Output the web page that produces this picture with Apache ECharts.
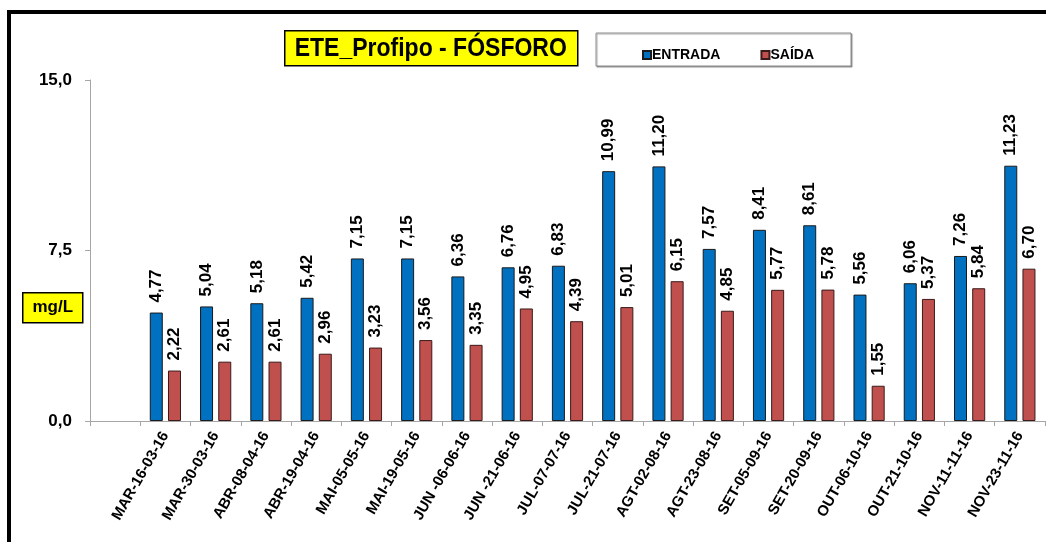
<!doctype html>
<html lang="pt">
<head>
    <meta charset="UTF-8">
    <title>ETE_Profipo - FÓSFORO</title>
    <style>
        body { margin: 0; background: #fff; }
        #main { width: 1046px; height: 542px; }
    </style>
    <script src="https://cdn.jsdelivr.net/npm/echarts@6/dist/echarts.min.js"></script>
</head>
<body>
    <div id="main"></div>
    <script>
        // leading '' keeps the empty slot between the y axis and the first date
        var categories = ['', 'MAR-16-03-16', 'MAR-30-03-16', 'ABR-08-04-16', 'ABR-19-04-16', 'MAI-05-05-16',
            'MAI-19-05-16', 'JUN -06-06-16', 'JUN -21-06-16', 'JUL-07-07-16', 'JUL-21-07-16',
            'AGT-02-08-16', 'AGT-23-08-16', 'SET-05-09-16', 'SET-20-09-16', 'OUT-06-10-16',
            'OUT-21-10-16', 'NOV-11-11-16', 'NOV-23-11-16'];
        var entrada = [null, 4.77, 5.04, 5.18, 5.42, 7.15, 7.15, 6.36, 6.76, 6.83, 10.99,
            11.20, 7.57, 8.41, 8.61, 5.56, 6.06, 7.26, 11.23];
        var saida = [null, 2.22, 2.61, 2.61, 2.96, 3.23, 3.56, 3.35, 4.95, 4.39, 5.01,
            6.15, 4.85, 5.77, 5.78, 1.55, 5.37, 5.84, 6.70];
        var yTicks = [0, 7.5, 15];

        var chartDom = document.getElementById('main');
        var myChart = echarts.init(chartDom);

        function comma(v, d) {
            return v.toFixed(d).replace('.', ',');
        }

        var barLabel = {
            show: true,
            position: 'top',
            rotate: 90,
            align: 'left',
            verticalAlign: 'middle',
            distance: 10,
            fontFamily: 'Liberation Sans',
            fontWeight: 'bold',
            fontSize: 17,
            color: '#000',
            formatter: function (p) { return comma(p.value, 2); }
        };

        var option = {
            animation: false,
            backgroundColor: '#fff',
            textStyle: { fontFamily: 'Liberation Sans' },
            grid: { left: 90, right: 1, top: 80, bottom: 121 },
            legend: {
                data: ['ENTRADA', 'SAÍDA'],
                left: 637,
                top: 43,
                itemWidth: 8,
                itemHeight: 8,
                itemGap: 40,
                icon: 'rect',
                textStyle: {
                    fontFamily: 'Liberation Sans',
                    fontWeight: 'bold',
                    fontSize: 14,
                    color: '#000',
                    padding: [0, 0, 0, -4]
                }
            },
            xAxis: {
                type: 'category',
                data: categories,
                axisLine: { lineStyle: { color: '#a6a6a6' } },
                axisTick: { show: true, length: 5, lineStyle: { color: '#a6a6a6' } },
                axisLabel: {
                    rotate: 60,
                    interval: 0,
                    margin: 12,
                    fontFamily: 'Liberation Sans',
                    fontWeight: 'bold',
                    fontSize: 15,
                    color: '#000'
                }
            },
            yAxis: {
                type: 'value',
                min: 0,
                max: 15,
                interval: 7.5,
                splitLine: { show: false },
                axisLine: { show: true, lineStyle: { color: '#a6a6a6' } },
                axisTick: { show: true, length: 5, lineStyle: { color: '#a6a6a6' } },
                axisLabel: {
                    margin: 18,
                    fontFamily: 'Liberation Sans',
                    fontWeight: 'bold',
                    fontSize: 17,
                    color: '#000',
                    formatter: function (v) { return yTicks.indexOf(v) >= 0 ? comma(v, 1) : ''; }
                }
            },
            series: [
                {
                    name: 'ENTRADA',
                    type: 'bar',
                    data: entrada,
                    barWidth: 13,
                    barGap: '40%',
                    itemStyle: { color: '#0070c0', borderColor: '#1a1a1a', borderWidth: 1 },
                    label: barLabel
                },
                {
                    name: 'SAÍDA',
                    type: 'bar',
                    data: saida,
                    barWidth: 13,
                    itemStyle: { color: '#c0504d', borderColor: '#3a1a1a', borderWidth: 1 },
                    label: barLabel
                }
            ],
            graphic: [
                {
                    type: 'rect',
                    shape: { x: 9, y: 12, width: 1060, height: 560 },
                    style: { fill: 'none', stroke: '#000', lineWidth: 4 },
                    silent: true
                },
                {
                    type: 'rect',
                    shape: { x: 596, y: 33, width: 255, height: 33 },
                    style: { fill: '#fff', stroke: '#8c8c8c', lineWidth: 1, shadowColor: 'rgba(0,0,0,0.35)', shadowOffsetX: 1, shadowOffsetY: 1, shadowBlur: 1 },
                    z: -1
                },
                {
                    type: 'group',
                    left: 284,
                    top: 30,
                    children: [
                        {
                            type: 'rect',
                            shape: { x: 0, y: 0, width: 293, height: 35 },
                            style: { fill: '#ffff00', stroke: '#000', lineWidth: 1.5 }
                        },
                        {
                            type: 'text',
                            x: 146,
                            y: 18,
                            scaleY: 1.15,
                            style: {
                                text: 'ETE_Profipo - FÓSFORO',
                                fontFamily: 'Liberation Sans',
                                fontWeight: 'bold',
                                fontSize: 23,
                                fill: '#000',
                                align: 'center',
                                verticalAlign: 'middle'
                            }
                        }
                    ]
                },
                {
                    type: 'group',
                    left: 22,
                    top: 292,
                    children: [
                        {
                            type: 'rect',
                            shape: { x: 0, y: 0, width: 60, height: 30 },
                            style: { fill: '#ffff00', stroke: '#000', lineWidth: 1.5 }
                        },
                        {
                            type: 'text',
                            x: 30,
                            y: 15,
                            style: {
                                text: 'mg/L',
                                fontFamily: 'Liberation Sans',
                                fontWeight: 'bold',
                                fontSize: 17,
                                fill: '#000',
                                align: 'center',
                                verticalAlign: 'middle'
                            }
                        }
                    ]
                }
            ]
        };
        myChart.setOption(option);
    </script>
</body>
</html>
